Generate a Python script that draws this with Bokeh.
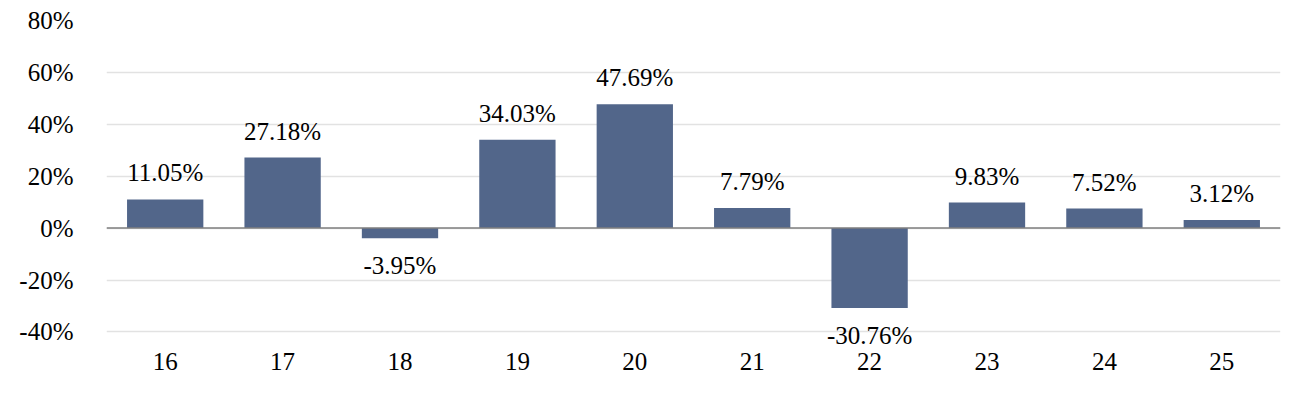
from bokeh.plotting import figure
from bokeh.models import ColumnDataSource, Span, FixedTicker, PrintfTickFormatter, LabelSet
from bokeh.embed import file_html
from bokeh.resources import INLINE

categories = ["16", "17", "18", "19", "20", "21", "22", "23", "24", "25"]
values = [11.05, 27.18, -3.95, 34.03, 47.69, 7.79, -30.76, 9.83, 7.52, 3.12]
y_ticks = [-40, -20, 0, 20, 40, 60, 80]

FONT = "'Liberation Serif', 'Times New Roman', serif"
FSIZE = "25px"
BAR = "#52668A"

labels = [f"{v:.2f}%" for v in values]
pos_src = ColumnDataSource(dict(
    x=[c for c, v in zip(categories, values) if v >= 0],
    y=[v for v in values if v >= 0],
    t=[l for l, v in zip(labels, values) if v >= 0]))
neg_src = ColumnDataSource(dict(
    x=[c for c, v in zip(categories, values) if v < 0],
    y=[v for v in values if v < 0],
    t=[l for l, v in zip(labels, values) if v < 0]))
src = ColumnDataSource(dict(x=categories, top=values))

p = figure(x_range=categories, y_range=(-46, 80), width=1300, height=398,
           output_backend="svg", toolbar_location=None,
           min_border_left=106, min_border_right=20, min_border_top=20, min_border_bottom=51)
p.outline_line_color = None
p.background_fill_color = "white"

p.vbar(x="x", top="top", bottom=0, width=0.65, source=src, fill_color=BAR, line_color=None)

p.add_layout(Span(location=0, dimension="width", line_color="#7f7f7f", line_width=1.5))

p.yaxis.ticker = FixedTicker(ticks=y_ticks)
p.yaxis.formatter = PrintfTickFormatter(format="%d%%")
p.ygrid.ticker = FixedTicker(ticks=y_ticks)
p.ygrid.grid_line_color = "#e2e2e2"
p.ygrid.grid_line_width = 1.5
p.xgrid.grid_line_color = None

for ax in (p.xaxis[0], p.yaxis[0]):
    ax.axis_line_color = None
    ax.major_tick_line_color = None
    ax.minor_tick_line_color = None
    ax.major_tick_out = 0
    ax.major_tick_in = 0
    ax.major_label_text_font = FONT
    ax.major_label_text_font_size = FSIZE
    ax.major_label_text_color = "black"
p.yaxis.major_label_standoff = 33
p.xaxis.major_label_standoff = 5

p.add_layout(LabelSet(x="x", y="y", text="t", source=pos_src, text_align="center",
                      text_baseline="alphabetic", y_offset=18, text_font=FONT,
                      text_font_size=FSIZE, text_color="black"))
p.add_layout(LabelSet(x="x", y="y", text="t", source=neg_src, text_align="center",
                      text_baseline="alphabetic", y_offset=-36, text_font=FONT,
                      text_font_size=FSIZE, text_color="black"))

open("out.html", "w").write(file_html(p, INLINE))
